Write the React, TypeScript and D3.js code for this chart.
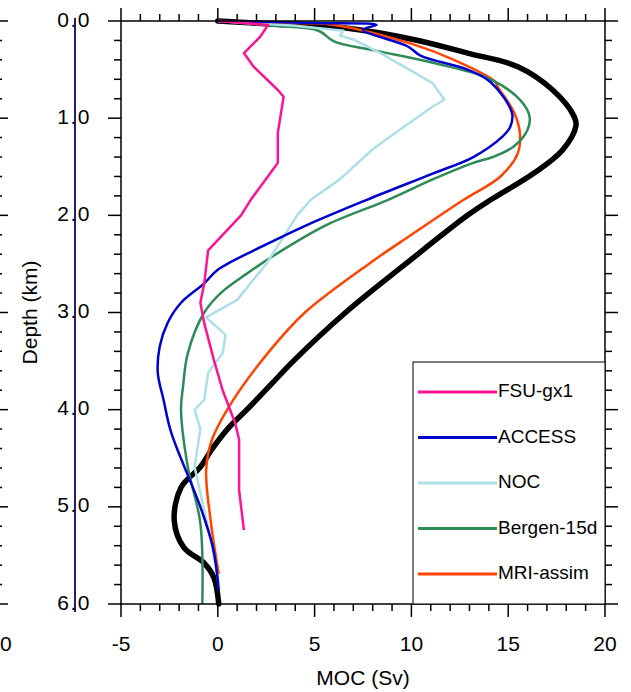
import React from "react";
import * as d3 from "d3";

// ---- Data (depth in km, MOC in Sv) ----
const seriesNames = ["FSU-gx1", "ACCESS", "NOC", "Bergen-15d", "MRI-assim"];

const obsDepth = [0, 0.03, 0.07, 0.19, 0.33, 0.47, 0.71, 0.98, 1.08, 1.33, 1.57, 1.84, 2.0, 2.5, 3.0, 3.5, 3.73, 4.0, 4.2, 4.42, 4.59, 4.8, 5.14, 5.42, 5.58, 5.73, 6.0];
const obsMoc = [0, 2.6, 6.5, 10.1, 12.9, 15.5, 17.3, 18.4, 18.5, 17.8, 16.3, 14.1, 12.9, 9.7, 6.6, 3.9, 2.8, 1.5, 0.5, -0.35, -0.9, -1.9, -2.25, -1.75, -0.7, -0.2, 0.05];

const fsuDepth = [0, 0.04, 0.16, 0.33, 0.47, 0.71, 0.78, 1.15, 1.46, 1.57, 1.84, 2.0, 2.36, 2.7, 2.9, 3.11, 3.49, 3.8, 4.14, 4.31, 4.83, 5.24];
const fsuMoc = [0, 2.6, 2.2, 1.35, 1.85, 3.1, 3.4, 3.1, 3.1, 2.7, 1.7, 1.2, -0.5, -0.7, -0.9, -0.7, -0.2, 0.25, 0.9, 1.1, 1.1, 1.35];

const accessDepth = [0, 0.02, 0.04, 0.09, 0.26, 0.36, 0.5, 0.63, 0.95, 1.09, 1.19, 1.4, 1.57, 1.84, 2.1, 2.3, 2.56, 2.7, 2.9, 3.11, 3.35, 3.62, 3.9, 4.24, 5.0, 5.42, 5.86];
const accessMoc = [0, 5, 8.2, 7.5, 9.8, 10.5, 12.9, 14.1, 15.2, 15.1, 14.7, 13.2, 11.1, 7.7, 4.6, 2.5, 0, -0.7, -1.9, -2.6, -3.0, -3.1, -2.8, -2.4, -0.9, -0.25, 0.05];

const nocDepth = [0, 0.05, 0.1, 0.15, 0.19, 0.33, 0.64, 0.81, 0.88, 1.12, 1.32, 1.63, 1.84, 2.0, 2.5, 2.87, 3.05, 3.23, 3.42, 3.62, 3.9, 4.0, 4.2, 4.59, 5.35, 5.79];
const nocMoc = [0, 4, 6.5, 6.3, 7.0, 8.4, 11.1, 11.7, 11.1, 9.4, 8.0, 6.3, 4.8, 4.1, 2.5, 1.0, -0.6, 0.4, 0.25, -0.5, -0.7, -1.2, -0.9, -1.2, -0.35, 0.05];

const bergenDepth = [0, 0.05, 0.1, 0.21, 0.3, 0.43, 0.6, 0.81, 0.98, 1.12, 1.29, 1.4, 1.46, 1.63, 1.84, 2.1, 2.4, 2.6, 2.8, 3.0, 3.42, 3.77, 4.0, 4.59, 5.17, 6.0];
const bergenMoc = [0, 3, 5.2, 6.0, 8.0, 11.1, 14.1, 15.6, 16.1, 16.0, 15.3, 14.2, 13.2, 11.1, 8.8, 5.6, 3.0, 1.5, 0.15, -0.7, -1.55, -1.8, -1.9, -1.55, -0.9, -0.8];

const mriDepth = [0, 0.02, 0.04, 0.24, 0.4, 0.62, 0.69, 0.94, 1.15, 1.36, 1.6, 1.84, 2.2, 2.5, 3.0, 3.39, 3.9, 4.31, 4.62, 5.17, 5.69];
const mriMoc = [0, 3, 6, 10.1, 12.2, 14.3, 14.5, 15.3, 15.6, 15.5, 14.6, 12.7, 10.0, 7.8, 4.5, 2.7, 0.8, -0.3, -0.6, -0.35, 0.05];

const xTicks = [-5, 0, 5, 10, 15, 20];
const yTicks = [0, 1, 2, 3, 4, 5, 6];
const yTickLabels = ["0.0", "1.0", "2.0", "3.0", "4.0", "5.0", "6.0"];

const colors = ["#ff1493", "#0000cd", "#aedfe6", "#2e8b57", "#ff4500"];

export default function App() {
  const W = 631, H = 692;
  const L = 121, R = 605, T = 21, B = 604;
  const x = d3.scaleLinear().domain([-5, 20]).range([L, R]);
  const y = d3.scaleLinear().domain([0, 6]).range([T, B]);
  const font = "'Liberation Sans', Arial, Helvetica, sans-serif";

  const mk = (ds: number[], vs: number[], smooth: boolean) => {
    const pts = ds.map((d, i) => [vs[i], d] as [number, number]);
    const line = d3.line<[number, number]>().x(p => x(p[0])).y(p => y(p[1]));
    if (smooth) line.curve(d3.curveCatmullRom.alpha(0.5));
    return line(pts) || "";
  };

  const models = [
    { d: fsuDepth, v: fsuMoc, smooth: false },
    { d: accessDepth, v: accessMoc, smooth: true },
    { d: nocDepth, v: nocMoc, smooth: false },
    { d: bergenDepth, v: bergenMoc, smooth: true },
    { d: mriDepth, v: mriMoc, smooth: true },
  ];

  const xMinor = d3.range(-5, 20.001, 1);
  const yMinor = d3.range(0, 6.001, 0.2);

  // left partial panel ticks (cut off)
  const leftFrame = -5;

  const legX0 = 413, legY0 = 362;
  const legRowY = (i: number) => 392 + i * 45.5;

  return (
    <svg width={W} height={H} style={{ position: "absolute", left: 0, top: 0, background: "#fff" }}>
      <rect x={0} y={0} width={W} height={H} fill="#fff" />
      {/* left partial panel remnants */}
      {yMinor.map((t, i) => (
        <line key={"lp" + i} x1={leftFrame} x2={leftFrame + (i % 5 === 0 ? 13 : 7)} y1={y(t)} y2={y(t)} stroke="#000" strokeWidth={1.5} />
      ))}
      <text x={0} y={645} fontFamily={font} fontSize={21} textAnchor="start" dominantBaseline="middle" fill="#000">0</text>
      <line x1={75} x2={75} y1={18} y2={612} stroke="#1f1f78" strokeWidth={2} />

      {/* data lines */}
      <path d={mk(obsDepth, obsMoc, true)} fill="none" stroke="#000" strokeWidth={5.5} strokeLinejoin="round" strokeLinecap="round" />
      {models.slice().reverse().map((m, ri) => {
        const i = models.length - 1 - ri;
        return <path key={"m" + i} d={mk(m.d, m.v, m.smooth)} fill="none" stroke={colors[i]} strokeWidth={2.5} strokeLinejoin="round" />;
      })}

      {/* frame */}
      <rect x={L} y={T} width={R - L} height={B - T} fill="none" stroke="#000" strokeWidth={1.5} />

      {/* x ticks bottom & top */}
      {xMinor.map((t, i) => {
        const major = i % 5 === 0;
        const len = major ? 13 : 7;
        return (
          <g key={"xt" + i}>
            <line x1={x(t)} x2={x(t)} y1={B} y2={B + len} stroke="#000" strokeWidth={1.5} />
            <line x1={x(t)} x2={x(t)} y1={T} y2={T - len} stroke="#000" strokeWidth={1.5} />
          </g>
        );
      })}
      {/* y ticks left & right */}
      {yMinor.map((t, i) => {
        const major = i % 5 === 0;
        const len = major ? 13 : 7;
        return (
          <g key={"yt" + i}>
            <line x1={L} x2={L - len} y1={y(t)} y2={y(t)} stroke="#000" strokeWidth={1.5} />
            <line x1={R} x2={R + len} y1={y(t)} y2={y(t)} stroke="#000" strokeWidth={1.5} />
          </g>
        );
      })}

      {/* tick labels */}
      {xTicks.map(t => (
        <text key={"xl" + t} x={x(t)} y={645} fontFamily={font} fontSize={21} textAnchor="middle" dominantBaseline="middle" fill="#000">{t}</text>
      ))}
      {yTicks.map((t, i) => (
        <text key={"yl" + t} x={91} y={y(t)} fontFamily={font} fontSize={21} textAnchor="end" dominantBaseline="middle" fill="#000" letterSpacing={1.5}>{yTickLabels[i]}</text>
      ))}

      {/* axis titles */}
      <text x={(L + R) / 2} y={679} fontFamily={font} fontSize={21} textAnchor="middle" dominantBaseline="middle" fill="#000">MOC (Sv)</text>
      <text transform={`translate(31,${(T + B) / 2}) rotate(-90)`} fontFamily={font} fontSize={21} textAnchor="middle" dominantBaseline="middle" fill="#000">Depth (km)</text>

      {/* legend */}
      <rect x={legX0} y={legY0} width={R - legX0} height={B - legY0} fill="#fff" stroke="#000" strokeWidth={1} />
      {seriesNames.map((n, i) => (
        <g key={"lg" + i}>
          <line x1={418} x2={497} y1={legRowY(i)} y2={legRowY(i)} stroke={colors[i]} strokeWidth={3} />
          <text x={498} y={legRowY(i)} fontFamily={font} fontSize={19} dominantBaseline="middle" fill="#000">{n}</text>
        </g>
      ))}
    </svg>
  );
}
